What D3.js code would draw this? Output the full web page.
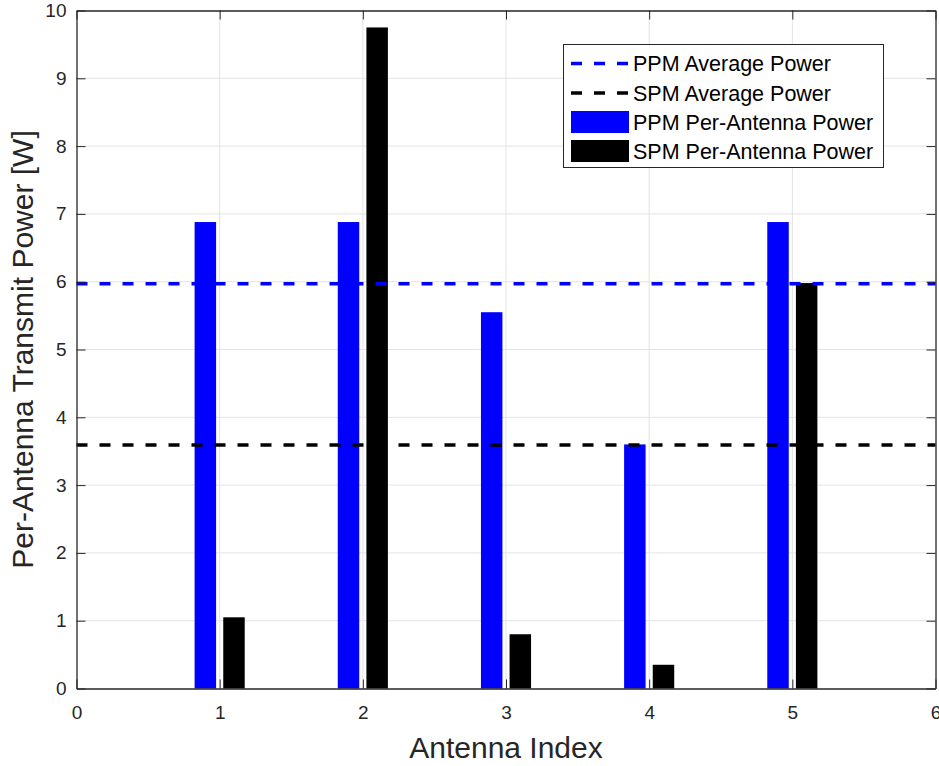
<!DOCTYPE html>
<html><head><meta charset="utf-8">
<script src="https://cdn.jsdelivr.net/npm/d3@7"></script>
<style>body{margin:0;background:#fff;} svg{display:block;font-family:"Liberation Sans",Arial,sans-serif;}</style>
</head><body>
<svg id="c" width="939" height="766"></svg>
<script>
const antennas = [1, 2, 3, 4, 5];
const ppmPower = [6.88, 6.88, 5.55, 3.60, 6.88];
const spmPower = [1.05, 9.75, 0.80, 0.35, 5.98];
const ppmAverage = 5.97;
const spmAverage = 3.59;
const xTicks = [0, 1, 2, 3, 4, 5, 6];
const yTicks = [0, 1, 2, 3, 4, 5, 6, 7, 8, 9, 10];
const legendLabels = ["PPM Average Power", "SPM Average Power", "PPM Per-Antenna Power", "SPM Per-Antenna Power"];

const svg = d3.select("#c");
const L = 76.5, R = 935.5, T = 10.5, B = 688.5;
const x = d3.scaleLinear().domain([0, 6]).range([L, R]);
const y = d3.scaleLinear().domain([0, 10]).range([B, T]);
const barW = x(0.15) - x(0);
const off = 0.1;

// grid
const g = svg.append("g");
g.selectAll(".gx").data(xTicks.slice(1, -1)).enter().append("line")
  .attr("x1", d => x(d)).attr("x2", d => x(d)).attr("y1", T).attr("y2", B)
  .attr("stroke", "#e3e3e3").attr("stroke-width", 1);
g.selectAll(".gy").data(yTicks.slice(1, -1)).enter().append("line")
  .attr("y1", d => y(d)).attr("y2", d => y(d)).attr("x1", L).attr("x2", R)
  .attr("stroke", "#e3e3e3").attr("stroke-width", 1);

// bars
svg.selectAll(".bp").data(antennas).enter().append("rect")
  .attr("x", (d) => x(d - off) - barW / 2).attr("width", barW)
  .attr("y", (d, i) => y(ppmPower[i])).attr("height", (d, i) => y(0) - y(ppmPower[i]))
  .attr("fill", "#0000ff");
svg.selectAll(".bs").data(antennas).enter().append("rect")
  .attr("x", (d) => x(d + off) - barW / 2).attr("width", barW)
  .attr("y", (d, i) => y(spmPower[i])).attr("height", (d, i) => y(0) - y(spmPower[i]))
  .attr("fill", "#000000");

// average lines
svg.append("line").attr("x1", L).attr("x2", R).attr("y1", y(ppmAverage)).attr("y2", y(ppmAverage))
  .attr("stroke", "#0000ff").attr("stroke-width", 3.5).attr("stroke-dasharray", "11,12");
svg.append("line").attr("x1", L).attr("x2", R).attr("y1", y(spmAverage)).attr("y2", y(spmAverage))
  .attr("stroke", "#000000").attr("stroke-width", 3.5).attr("stroke-dasharray", "11,12");

// axes
const tickCol = "#262626";
svg.append("g").attr("transform", `translate(0,${B})`)
  .call(d3.axisBottom(x).tickValues(xTicks).tickFormat(d3.format("d")).tickSizeInner(-9).tickSizeOuter(0).tickPadding(17));
svg.append("g").attr("transform", `translate(${L},0)`)
  .call(d3.axisLeft(y).tickValues(yTicks).tickFormat(d3.format("d")).tickSizeInner(-9).tickSizeOuter(0).tickPadding(10));
svg.append("g").attr("transform", `translate(0,${T})`)
  .call(d3.axisTop(x).tickValues(xTicks).tickFormat("").tickSizeInner(-9).tickSizeOuter(0));
svg.append("g").attr("transform", `translate(${R},0)`)
  .call(d3.axisRight(y).tickValues(yTicks).tickFormat("").tickSizeInner(-9).tickSizeOuter(0));
svg.selectAll(".domain").attr("stroke", tickCol).attr("stroke-width", 1.3);
svg.selectAll(".tick line").attr("stroke", tickCol).attr("stroke-width", 1);
svg.selectAll(".tick text").attr("fill", tickCol).style("font-size", "19px").style("font-family", "Liberation Sans, Arial, sans-serif");

// axis labels
svg.append("text").attr("x", (L + R) / 2).attr("y", 758).attr("text-anchor", "middle")
  .style("font-size", "30px").attr("fill", tickCol).text("Antenna Index");
svg.append("text").attr("transform", `translate(32.5,${(T + B) / 2}) rotate(-90)`).attr("text-anchor", "middle")
  .style("font-size", "30px").attr("fill", tickCol).text("Per-Antenna Transmit Power [W]");

// legend
const lg = svg.append("g");
lg.append("rect").attr("x", 563.5).attr("y", 44.5).attr("width", 320).attr("height", 123)
  .attr("fill", "#fff").attr("stroke", "#262626").attr("stroke-width", 1);
const rowY = [63.5, 93, 122, 151];
const cols = ["#0000ff", "#000000", "#0000ff", "#000000"];
legendLabels.forEach((lab, i) => {
  if (i < 2) {
    lg.append("line").attr("x1", 571).attr("x2", 629).attr("y1", rowY[i]).attr("y2", rowY[i])
      .attr("stroke", cols[i]).attr("stroke-width", 3.5).attr("stroke-dasharray", "11,12");
  } else {
    lg.append("rect").attr("x", 571).attr("y", rowY[i] - 11).attr("width", 58).attr("height", 22).attr("fill", cols[i]);
  }
  lg.append("text").attr("x", 633).attr("y", rowY[i] + 7.5).style("font-size", "21.5px").attr("fill", "#000").text(lab);
});
</script>
</body></html>
